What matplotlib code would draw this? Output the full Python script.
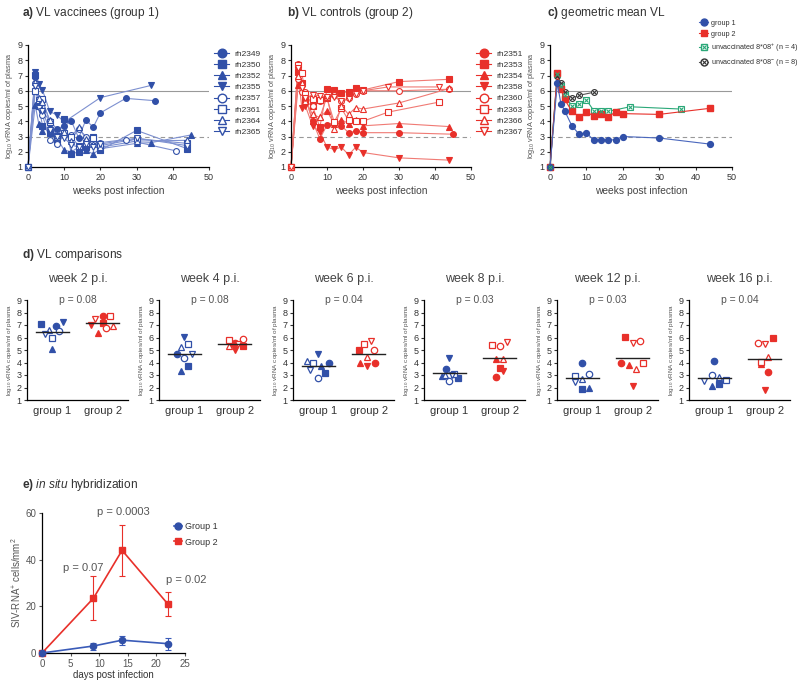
import numpy as np
import matplotlib
matplotlib.use('Agg')
import matplotlib.pyplot as plt
from matplotlib.legend_handler import HandlerTuple
from matplotlib.lines import Line2D

plt.rcParams['font.family'] = ['Liberation Sans', 'DejaVu Sans']
plt.rcParams['mathtext.fontset'] = 'custom'
plt.rcParams['mathtext.rm'] = 'Liberation Sans'
plt.rcParams['mathtext.it'] = 'Liberation Sans:italic'
plt.rcParams['mathtext.bf'] = 'Liberation Sans:bold'
plt.rcParams['axes.linewidth'] = 0.9

nan = np.nan

# ---- data -------------------------------------------------------------
weeks = [0, 2, 3, 4, 6, 8, 10, 12, 14, 16, 18, 20]

g1_names = ['rh2349', 'rh2350', 'rh2352', 'rh2355', 'rh2357', 'rh2361', 'rh2364', 'rh2365']
g1_early = [
    [1, 6.9, 5.1, 4.7, 4.0, 3.5, 3.7, 4.0, 2.9, 4.1, 3.6, 4.55],
    [1, 7.05, 5.0, 3.7, 3.2, 2.75, 4.15, 1.85, 2.0, 2.3, 3.0, 2.1],
    [1, 5.05, 3.8, 3.35, 3.7, 2.9, 2.1, 2.0, 2.3, 2.1, 1.85, 2.2],
    [1, 7.25, 6.45, 6.05, 4.65, 4.4, 3.95, nan, nan, nan, nan, 5.55],
    [1, 6.5, 5.3, 4.4, 2.8, 2.5, 3.1, 3.1, 3.5, 3.0, 2.7, 2.6],
    [1, 6.0, 5.4, 5.45, 3.95, 3.05, 3.2, 2.95, 2.4, 2.6, 2.9, 2.4],
    [1, 6.6, 5.5, 5.25, 4.1, 3.0, 3.3, 2.7, 3.6, 2.85, 2.5, 2.3],
    [1, 6.3, 4.9, 4.7, 3.4, 3.0, 2.9, 2.45, 2.3, 2.5, 2.3, 2.5],
]
g1_late_wk = [[27, 35], [30, 44], [30, 34, 45], [34], [27, 41], [30, 44], [30, 44], [30, 44]]
g1_late_vl = [[5.5, 5.35], [3.4, 2.2], [2.55, 2.6, 3.1], [6.35], [2.8, 2.05],
              [2.85, 2.55], [2.7, 2.75], [2.9, 2.4]]

g2_names = ['rh2351', 'rh2353', 'rh2354', 'rh2358', 'rh2360', 'rh2363', 'rh2366', 'rh2367']
g2_early = [
    [1, 7.75, 6.4, 5.6, 4.0, 2.85, 3.75, 3.95, 3.7, 3.25, 3.35, 3.25],
    [1, 7.2, 6.5, 5.3, 5.0, 3.6, 6.1, 6.05, 5.85, 5.95, 6.15, 6.05],
    [1, 6.4, 6.5, 5.55, 4.0, 4.25, 4.7, 3.8, 4.1, 3.85, 4.1, 3.7],
    [1, 7.0, 4.9, 5.0, 3.7, 3.3, 2.3, 2.15, 2.3, 1.8, 2.3, 1.95],
    [1, 6.8, 5.9, 5.9, 5.0, 5.3, 5.55, 5.7, 5.3, 5.55, 5.8, 6.0],
    [1, 7.7, 7.15, 5.8, 5.45, 5.4, 5.5, 3.95, 4.85, 4.05, 4.0, 4.0],
    [1, 6.95, 6.5, 5.35, 4.45, 4.25, 5.6, 3.5, 5.0, 4.45, 4.9, 4.8],
    [1, 7.5, 6.2, 5.5, 5.75, 5.65, 5.6, 5.6, 5.3, 5.45, 5.8, 6.0],
]
g2_late_wk = [[30, 45], [30, 44], [30, 44], [30, 44], [30, 44], [27, 41], [30, 44], [27, 41]]
g2_late_vl = [[3.25, 3.15], [6.6, 6.75], [3.85, 3.65], [1.6, 1.45], [6.0, 6.1],
              [4.6, 5.25], [5.2, 6.15], [6.25, 6.25]]

# geometric means (panel c)
gm_weeks = [0, 2, 3, 4, 6, 8, 10, 12, 14, 16, 18, 20, 30, 44]
gm_g1 = [1, 6.5, 5.15, 4.7, 3.7, 3.15, 3.25, 2.75, 2.8, 2.75, 2.8, 3.0, 2.9, 2.5]
gm_g2 = [1, 7.15, 6.1, 5.45, 4.65, 4.3, 4.6, 4.35, 4.45, 4.3, 4.6, 4.5, 4.45, 4.85]
unv_pos_weeks = [0, 2, 3, 4, 6, 8, 10, 12, 14, 16, 22, 36]
unv_pos = [1, 7.1, 6.3, 5.75, 5.0, 5.15, 5.4, 4.7, 4.7, 4.65, 4.95, 4.8]
unv_neg_weeks = [0, 2, 3, 4, 6, 8, 12]
unv_neg = [1, 6.95, 6.5, 5.9, 5.5, 5.7, 5.9]

# panel d
cmp_weeks = [2, 4, 6, 8, 12, 16]
cmp_p = ['0.08', '0.08', '0.04', '0.03', '0.03', '0.04']
g1_jitter = [
    [0.07, -0.22, 0.0, 0.22, 0.14, 0.0, -0.07, -0.15],
    [-0.14, 0.08, -0.06, 0.0, 0.0, 0.08, -0.06, 0.15],
    [0.21, 0.13, 0.05, 0.0, 0.0, -0.1, -0.22, -0.16],
    [-0.07, 0.17, -0.15, 0.0, 0.0, 0.09, -0.08, 0.05],
    [0.0, 0.0, 0.13, 0.0, 0.13, -0.15, 0.0, -0.14],
    [0.0, 0.09, -0.05, 0.0, -0.05, 0.23, 0.09, -0.2],
]
g2_jitter = [
    [0.0, 0.0, -0.1, -0.24, 0.06, 0.14, 0.2, -0.16],
    [0.0, 0.16, -0.06, 0.0, 0.16, -0.12, -0.12, 0.06],
    [0.12, -0.19, -0.18, -0.03, 0.1, -0.1, -0.03, 0.04],
    [-0.07, 0.0, -0.07, 0.07, 0.0, -0.15, 0.07, 0.15],
    [-0.23, -0.15, -0.08, 0.0, 0.15, 0.21, 0.07, 0.0],
    [0.07, 0.16, -0.07, 0.0, -0.13, -0.07, 0.07, 0.0],
]

# panel e
isi_days = [0, 9, 14, 22]
isi_g1 = [0, 3.0, 5.5, 4.0]
isi_g1_err = [0, 1.5, 2.0, 2.5]
isi_g2 = [0, 23.5, 44.0, 21.0]
isi_g2_err = [0, 9.5, 11.0, 5.2]

# ---- styles -----------------------------------------------------------
BLUE = '#3150a8'
BLUE_L = '#7d90d0'
RED = '#e8302a'
RED_L = '#f07a74'
GREEN = '#2aa878'
TXT = '#333333'
markers = ['o', 's', '^', 'v', 'o', 's', '^', 'v']
filled = [True] * 4 + [False] * 4
ylab = 'log$_{10}$ vRNA copies/ml of plasma'
TFS = 8.6  # panel title size

fig = plt.figure(figsize=(8, 6.86), dpi=100)
W, H = 800.0, 686.0


def ax_px(l, t, r, b):
    return fig.add_axes([l / W, 1 - b / H, (r - l) / W, (b - t) / H])


def style_vl(ax):
    ax.set_xlim(0, 50)
    ax.set_ylim(1, 9)
    ax.set_xticks(range(0, 51, 10))
    ax.set_yticks(range(1, 10))
    for s in ['top', 'right']:
        ax.spines[s].set_visible(False)
    ax.tick_params(labelsize=6.5, length=2.5, width=0.8, pad=1.5, colors=TXT)
    ax.axhline(6, color='#999999', lw=0.8, zorder=1)
    ax.axhline(3, color='#999999', lw=0.8, ls=(0, (4, 3)), zorder=1)
    ax.set_xlabel('weeks post infection', fontsize=7.4, color='#444444', labelpad=3)
    ax.set_ylabel(ylab, fontsize=5.3, color='#555555', labelpad=2)


def vl_panel(ax, names, early, late_wk, late_vl, col, lcol):
    handles = []
    for i, nm in enumerate(names):
        x = np.array(weeks + late_wk[i], float)
        y = np.array(early[i] + late_vl[i], float)
        ok = ~np.isnan(y)
        fc = col if filled[i] else 'white'
        ax.plot(x[ok], y[ok], color=lcol, lw=0.8, zorder=2, clip_on=False)
        ax.plot(x[ok], y[ok], ls='none', marker=markers[i], ms=4.2, mfc=fc,
                mec=col, mew=0.8, zorder=3, clip_on=False)
        handles.append(Line2D([], [], color=col, lw=0.8, marker=markers[i], ms=6.2,
                              mfc=fc, mec=col, mew=1.0))
    leg = ax.legend(handles, names, loc='upper left', bbox_to_anchor=(1.0, 1.0),
                    frameon=False, fontsize=6, handlelength=1.8, handletextpad=0.6,
                    labelspacing=0.4, borderaxespad=0.2)
    for t in leg.get_texts():
        t.set_color(TXT)
    style_vl(ax)


# panel a
axa = ax_px(28, 45, 209, 167)
vl_panel(axa, g1_names, g1_early, g1_late_wk, g1_late_vl, BLUE, BLUE_L)
fig.text(22 / W, 1 - 13 / H, r'$\bf{a)}$ VL vaccinees (group 1)', fontsize=TFS,
         color=TXT, va='center')

# panel b
axb = ax_px(291, 45, 471, 167)
vl_panel(axb, g2_names, g2_early, g2_late_wk, g2_late_vl, RED, RED_L)
fig.text(287 / W, 1 - 13 / H, r'$\bf{b)}$ VL controls (group 2)', fontsize=TFS,
         color=TXT, va='center')

# panel c
axc = ax_px(550, 45, 732, 167)
ms = 4.2
axc.plot(unv_neg_weeks, unv_neg, color='#555555', lw=0.8, zorder=2, clip_on=False)
axc.plot(unv_neg_weeks, unv_neg, ls='none', marker='o', ms=ms, mfc='white',
         mec='#333333', mew=0.8, zorder=3, clip_on=False)
axc.plot(unv_neg_weeks, unv_neg, ls='none', marker='x', ms=ms * 0.65,
         mec='#333333', mew=0.8, zorder=4, clip_on=False)
axc.plot(unv_pos_weeks, unv_pos, color=GREEN, lw=0.8, zorder=2, clip_on=False)
axc.plot(unv_pos_weeks, unv_pos, ls='none', marker='s', ms=ms, mfc='white',
         mec=GREEN, mew=0.8, zorder=3, clip_on=False)
axc.plot(unv_pos_weeks, unv_pos, ls='none', marker='x', ms=ms * 0.65,
         mec=GREEN, mew=0.8, zorder=4, clip_on=False)
axc.plot(gm_weeks, gm_g2, color=RED, lw=0.8, marker='s', ms=ms, mec=RED, mfc=RED,
         zorder=3, clip_on=False)
axc.plot(gm_weeks, gm_g1, color='#4a67bd', lw=0.8, marker='o', ms=ms, mec=BLUE,
         mfc=BLUE, zorder=3, clip_on=False)
style_vl(axc)
h1 = Line2D([], [], color='#4a67bd', lw=0.8, marker='o', ms=5, mfc=BLUE, mec=BLUE)
h2 = Line2D([], [], color=RED, lw=0.8, marker='s', ms=5, mfc=RED, mec=RED)
h3 = (Line2D([], [], color=GREEN, lw=0.8, marker='s', ms=5, mfc='white', mec=GREEN),
      Line2D([], [], ls='none', marker='x', ms=3.2, mec=GREEN, mew=0.8))
h4 = (Line2D([], [], color='#555555', lw=0.8, marker='o', ms=5, mfc='white', mec='#333333'),
      Line2D([], [], ls='none', marker='x', ms=3.2, mec='#333333', mew=0.8))
legc = fig.legend([h1, h2, h3, h4],
                  ['group 1', 'group 2', r'unvaccinated $\mathit{8{*}08}^{+}$ (n = 4)',
                   r'unvaccinated $\mathit{8{*}08}^{-}$ (n = 8)'],
                  handler_map={tuple: HandlerTuple(ndivide=1, pad=0)},
                  loc='upper left', bbox_to_anchor=(696 / W, 1 - 17 / H), frameon=False,
                  fontsize=5.2, handlelength=1.3, handletextpad=0.4, labelspacing=0.5,
                  borderaxespad=0)
for t in legc.get_texts():
    t.set_color(TXT)
fig.text(547 / W, 1 - 13 / H, r'$\bf{c)}$ geometric mean VL', fontsize=TFS,
         color=TXT, va='center')

# panel d
fig.text(22 / W, 1 - 255 / H, r'$\bf{d)}$ VL comparisons', fontsize=TFS,
         color=TXT, va='center')
d_lefts = [27, 159, 293, 424, 557, 689]
g1_arr = np.array(g1_early, float)
g2_arr = np.array(g2_early, float)
for k, wk in enumerate(cmp_weeks):
    ax = ax_px(d_lefts[k], 300, d_lefts[k] + 101, 400)
    col_idx = weeks.index(wk)
    for grp, arr, jit, col in [(1, g1_arr, g1_jitter[k], BLUE), (2, g2_arr, g2_jitter[k], RED)]:
        vals = arr[:, col_idx]
        for i, v in enumerate(vals):
            if np.isnan(v):
                continue
            fc = col if filled[i] else 'white'
            ax.plot(grp + jit[i], v, ls='none', marker=markers[i], ms=4.6, mfc=fc,
                    mec=col, mew=0.9, zorder=3)
        m = np.nanmean(vals)
        ax.plot([grp - 0.33, grp + 0.33], [m, m], color='#222222', lw=1.0, zorder=4)
    ax.set_xlim(0.5, 2.5)
    ax.set_ylim(1, 9)
    ax.set_yticks(range(1, 10))
    ax.set_xticks([1, 2])
    ax.set_xticklabels(['group 1', 'group 2'])
    for s in ['top', 'right']:
        ax.spines[s].set_visible(False)
    ax.tick_params(axis='y', labelsize=6.5, length=2.5, width=0.8, pad=1.5, colors=TXT)
    ax.tick_params(axis='x', labelsize=8, length=0, pad=4, colors=TXT)
    ax.set_ylabel(ylab, fontsize=4.6, color='#555555', labelpad=2)
    ax.set_title('week %d p.i.' % wk, fontsize=9, color='#444444', pad=13)
    ax.text(1.5, 9.0, 'p = ' + cmp_p[k], ha='center', va='center', fontsize=7.5,
            color='#555555')

# panel e
fig.text(22 / W, 1 - 485 / H, r'$\bf{e)}$ $\it{in\ situ}$ hybridization', fontsize=TFS,
         color=TXT, va='center')
axe = ax_px(42, 513, 185, 653)
axe.errorbar(isi_days, isi_g2, yerr=isi_g2_err, color=RED, lw=1.2, marker='s', ms=4.5,
             elinewidth=0.8, capsize=2.5, capthick=0.8, clip_on=False, zorder=3,
             label='Group 2')
axe.errorbar(isi_days, isi_g1, yerr=isi_g1_err, color='#3a5bb8', lw=1.2, marker='o',
             ms=4.5, mfc=BLUE, mec=BLUE, elinewidth=0.8, capsize=2.5, capthick=0.8,
             clip_on=False, zorder=3, label='Group 1')
axe.set_xlim(0, 25)
axe.set_ylim(0, 60)
axe.set_xticks(range(0, 26, 5))
axe.set_yticks([0, 20, 40, 60])
for s in ['top', 'right']:
    axe.spines[s].set_visible(False)
axe.tick_params(labelsize=7, length=2.5, width=0.8, pad=1.5, colors='#555555')
axe.set_xlabel('days post infection', fontsize=7, color=TXT, labelpad=1)
axe.set_ylabel('SIV-RNA$^{+}$ cells/mm$^{2}$', fontsize=7, color='#555555', labelpad=2)
axe.text(7.2, 36.4, 'p = 0.07', ha='center', va='center', fontsize=8, color='#555555')
axe.text(14.2, 60.4, 'p = 0.0003', ha='center', va='center', fontsize=8, color='#555555')
axe.text(25.3, 31.3, 'p = 0.02', ha='center', va='center', fontsize=8, color='#555555',
         clip_on=False)
he1 = Line2D([], [], color='#3a5bb8', lw=1.2, marker='o', ms=5, mfc=BLUE, mec=BLUE)
he2 = Line2D([], [], color=RED, lw=1.2, marker='s', ms=5, mfc=RED, mec=RED)
lege = axe.legend([he1, he2], ['Group 1', 'Group 2'], loc='upper left',
                  bbox_to_anchor=(0.9, 0.96), frameon=False, fontsize=6.5,
                  handlelength=0.8, handletextpad=0.4, labelspacing=0.7, borderaxespad=0)
for t in lege.get_texts():
    t.set_color(TXT)

fig.savefig('out.png', dpi=100)
